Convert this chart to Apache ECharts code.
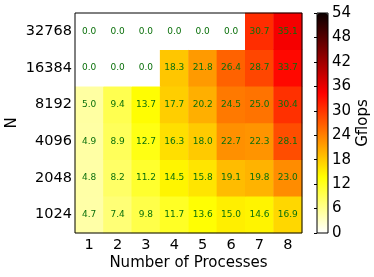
<!DOCTYPE html>
<html><head><meta charset="utf-8">
<script src="https://cdn.jsdelivr.net/npm/echarts@6/dist/echarts.min.js"></script>
<style>html,body{margin:0;padding:0;background:#fff}#c{width:374px;height:277px}</style>
</head><body><div id="c"></div>
<script>
const processes = ['1','2','3','4','5','6','7','8'];
const sizes = ['1024','2048','4096','8192','16384','32768'];
const gflops1024  = [4.7, 7.4, 9.8, 11.7, 13.6, 15.0, 14.6, 16.9];
const gflops2048  = [4.8, 8.2, 11.2, 14.5, 15.8, 19.1, 19.8, 23.0];
const gflops4096  = [4.9, 8.9, 12.7, 16.3, 18.0, 22.7, 22.3, 28.1];
const gflops8192  = [5.0, 9.4, 13.7, 17.7, 20.2, 24.5, 25.0, 30.4];
const gflops16384 = [0.0, 0.0, 0.0, 18.3, 21.8, 26.4, 28.7, 33.7];
const gflops32768 = [0.0, 0.0, 0.0, 0.0, 0.0, 0.0, 30.7, 35.1];
const colorTicks = [0, 6, 12, 18, 24, 30, 36, 42, 48, 54];

const rows = [gflops1024, gflops2048, gflops4096, gflops8192, gflops16384, gflops32768];
const data = [];
rows.forEach((r, yi) => r.forEach((v, xi) => data.push([xi, yi, v])));

// matplotlib 'hot_r' colormap stops
function hotR(t) {
  const v = 1 - t;
  const cl = x => Math.max(0, Math.min(1, x));
  const r = 0.0416 + (1 - 0.0416) * cl(v / 0.365079);
  const g = cl((v - 0.365079) / (0.746032 - 0.365079));
  const b = cl((v - 0.746032) / (1 - 0.746032));
  const h = x => Math.round(x * 255).toString(16).padStart(2, '0');
  return '#' + h(r) + h(g) + h(b);
}
const stops = [];
for (let i = 0; i <= 108; i++) stops.push(hotR(i / 108));

const FONT = 'DejaVu Sans';
const chart = echarts.init(document.getElementById('c'), null, {renderer: 'canvas'});
chart.setOption({
  animation: false,
  textStyle: {fontFamily: FONT},
  grid: [
    {left: 75, top: 13, width: 227, height: 220, show: true, borderColor: '#000', borderWidth: 1, backgroundColor: 'transparent', z: 5, outerBoundsMode: 'none', containLabel: false},
    {left: 317, top: 13, width: 11, height: 220, show: true, borderColor: '#000', borderWidth: 1, backgroundColor: 'transparent', z: 5, outerBoundsMode: 'none', containLabel: false}
  ],
  xAxis: [
    {type: 'category', data: processes, gridIndex: 0,
     name: 'Number of Processes', nameLocation: 'middle', nameGap: 23, nameMoveOverlap: false,
     nameTextStyle: {fontSize: 15, color: '#000', fontFamily: FONT},
     axisLine: {show: false}, splitLine: {show: false},
     axisTick: {show: true, inside: true, alignWithLabel: true, length: 4, lineStyle: {color: '#000'}},
     axisLabel: {fontSize: 14.5, color: '#000', margin: 5, fontFamily: FONT}},
    {type: 'category', data: processes, gridIndex: 0, position: 'top',
     axisLine: {show: false}, axisLabel: {show: false}, splitLine: {show: false},
     axisTick: {show: true, inside: true, alignWithLabel: true, length: 4, lineStyle: {color: '#000'}}},
    {type: 'value', gridIndex: 1, show: false, min: 0, max: 1}
  ],
  yAxis: [
    {type: 'category', data: sizes, gridIndex: 0,
     name: 'N', nameLocation: 'middle', nameGap: 55, nameRotate: 90, nameMoveOverlap: false,
     nameTextStyle: {fontSize: 15, color: '#000', fontFamily: FONT},
     axisLine: {show: false}, splitLine: {show: false},
     axisTick: {show: true, inside: true, alignWithLabel: true, length: 4, lineStyle: {color: '#000'}},
     axisLabel: {fontSize: 14.5, color: '#000', margin: 3, fontFamily: FONT}},
    {type: 'category', data: sizes, gridIndex: 0, position: 'right',
     axisLine: {show: false}, axisLabel: {show: false}, splitLine: {show: false},
     axisTick: {show: true, inside: true, alignWithLabel: true, length: 4, lineStyle: {color: '#000'}}},
    {type: 'value', gridIndex: 1, position: 'right', min: 0, max: 54, interval: 6,
     name: 'Gflops', nameLocation: 'middle', nameRotate: 90, nameGap: 28, nameMoveOverlap: false,
     nameTextStyle: {fontSize: 15, color: '#000', fontFamily: FONT},
     axisLine: {show: false}, splitLine: {show: false},
     axisTick: {show: true, inside: true, length: 3, lineStyle: {color: '#000'}},
     axisLabel: {fontSize: 15, color: '#000', margin: 4, fontFamily: FONT}}
  ],
  visualMap: {
    type: 'continuous', min: 0, max: 54, seriesIndex: 0,
    calculable: false, showLabel: false, text: null,
    orient: 'vertical', left: 317, top: 13, padding: 0,
    itemWidth: 11, itemHeight: 220,
    inRange: {color: stops}
  },
  series: [{
    type: 'heatmap', xAxisIndex: 0, yAxisIndex: 0, data: data,
    label: {show: true, color: '#0b700b', fontSize: 9, fontFamily: FONT,
            formatter: p => p.value[2].toFixed(1)},
    itemStyle: {borderWidth: 0}
  }]
});
</script></body></html>
